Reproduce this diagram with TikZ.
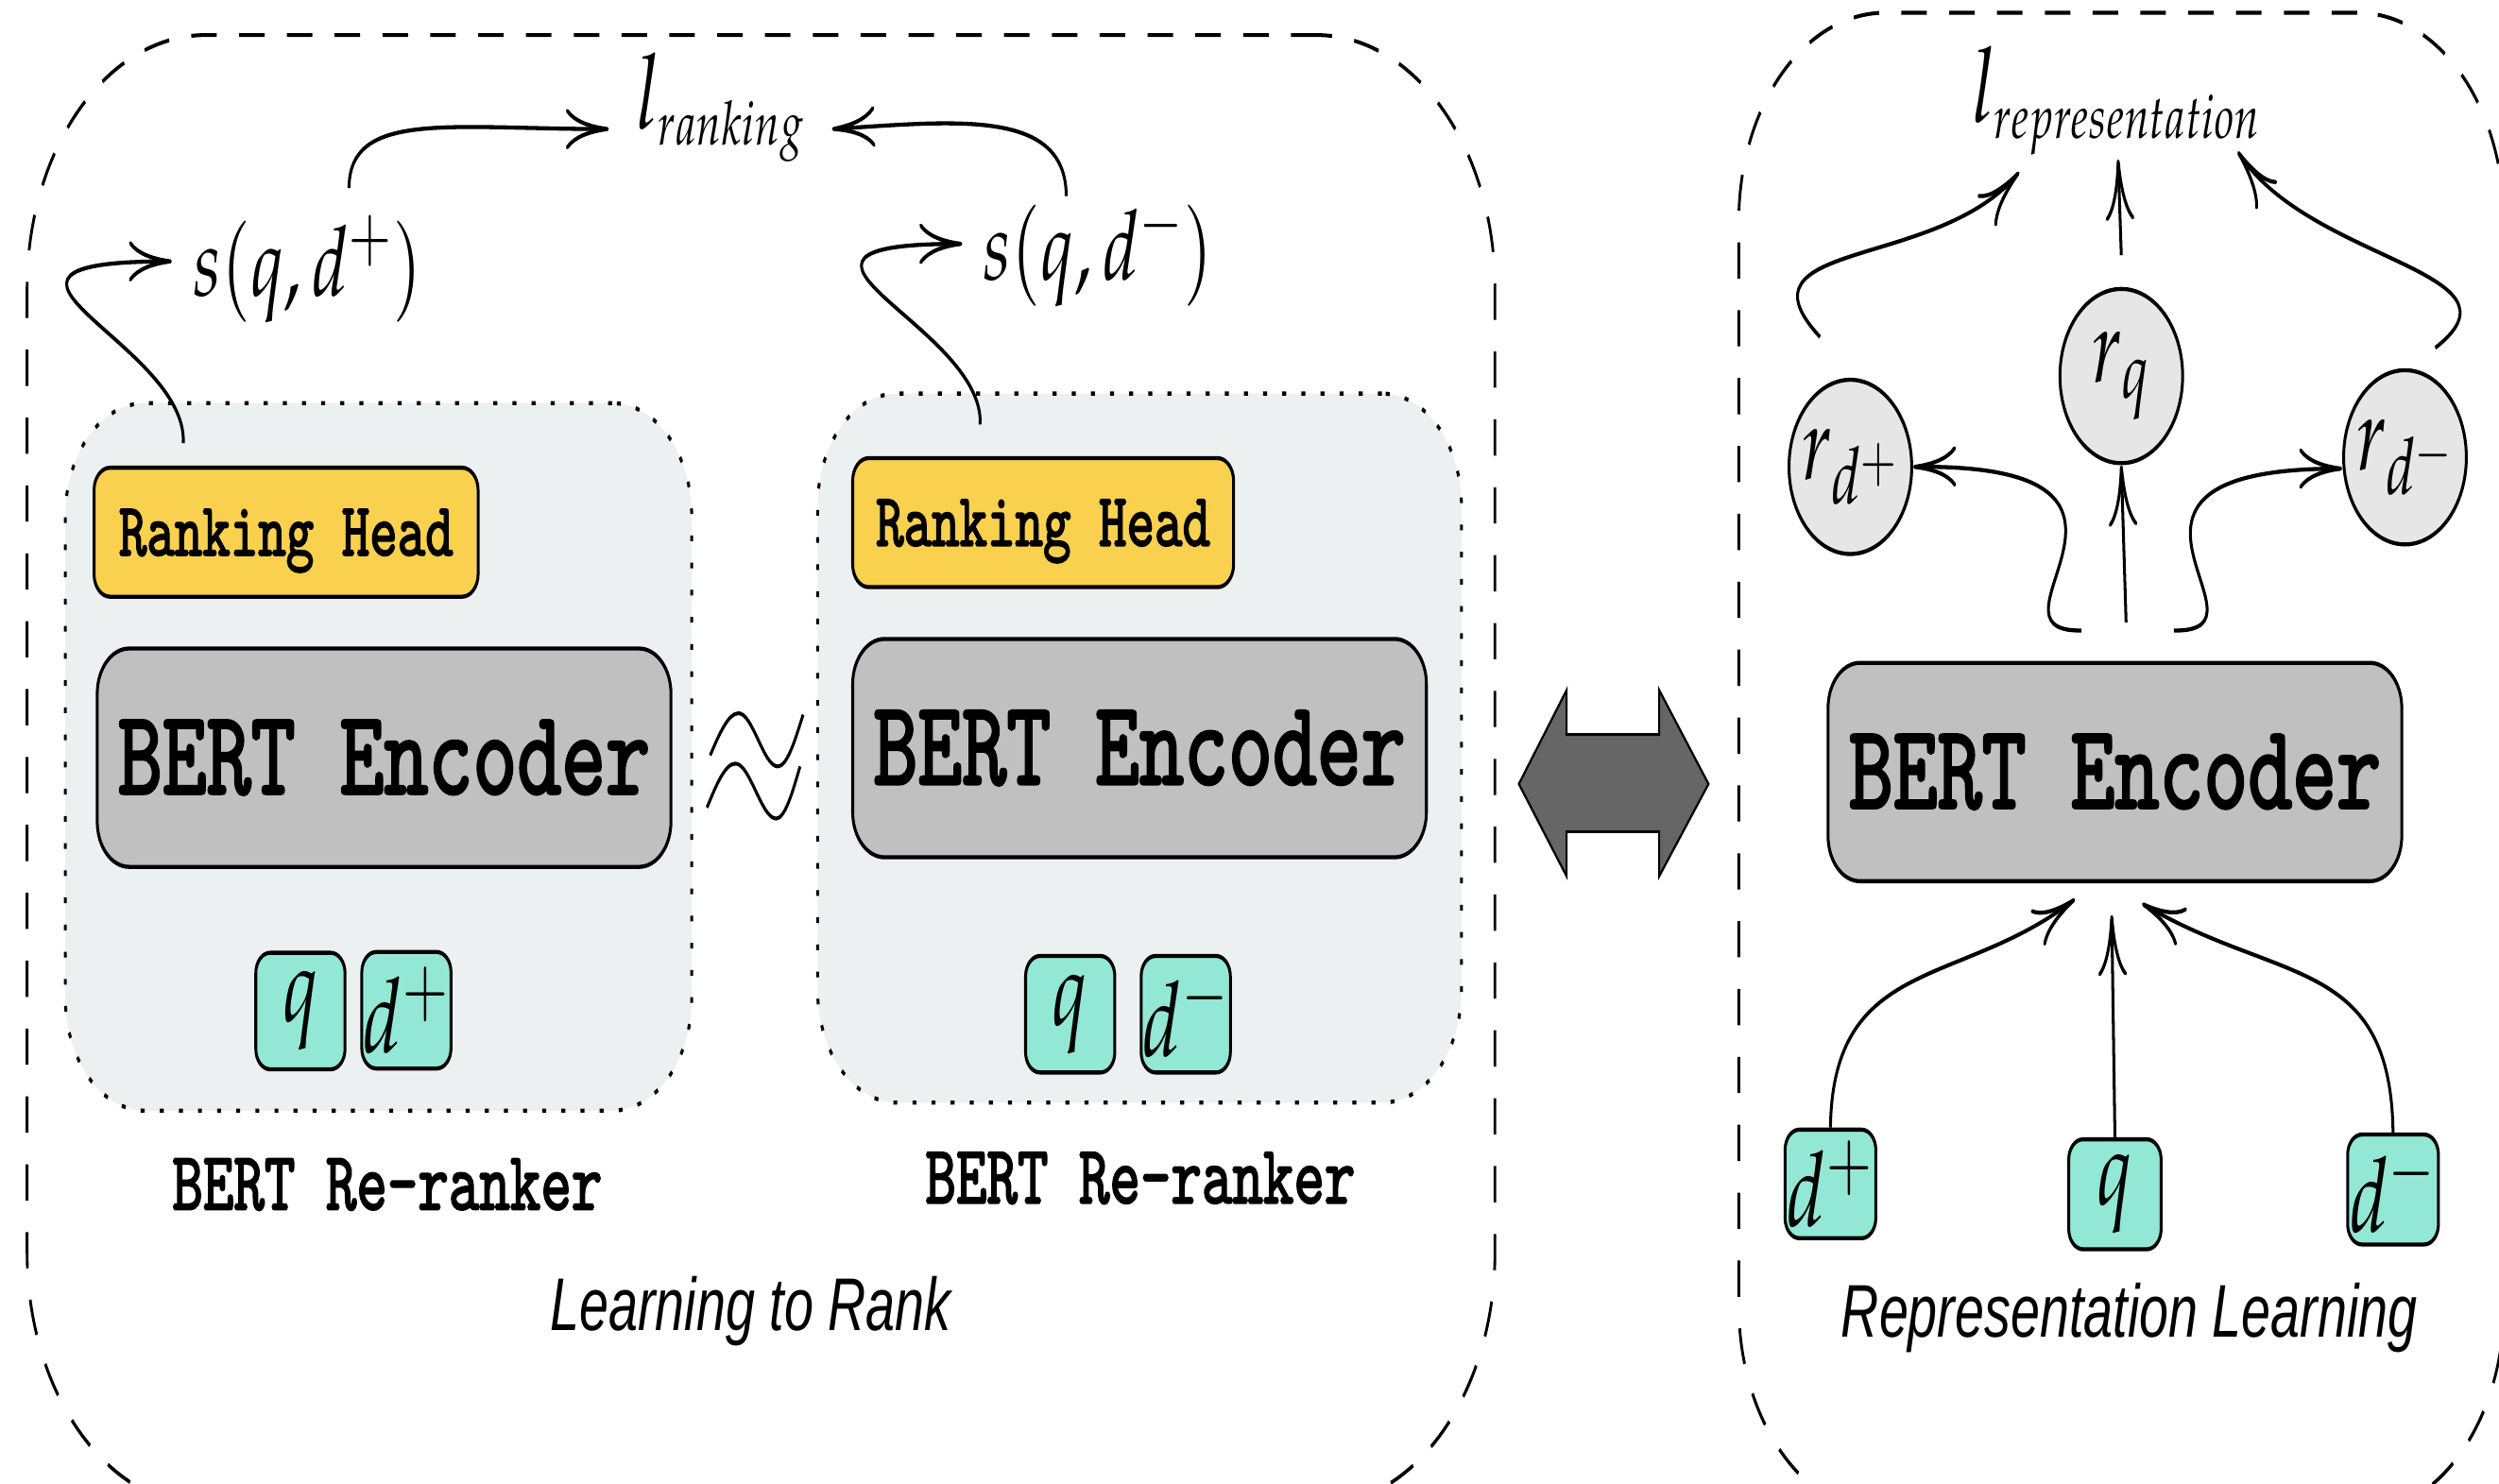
\documentclass[tikz,border=0pt]{standalone}
\usepackage{mathpazo}
\usepackage[no-math]{fontspec}
\usetikzlibrary{arrows.meta}
\newfontfamily\lsans{Liberation Sans}
\newfontfamily\ttheavy{lmmono10-regular}[Extension=.otf, FakeBold=2.5]
\definecolor{yhead}{HTML}{F9D14F}
\definecolor{tealbox}{HTML}{93E7D5}
\definecolor{encgray}{HTML}{C0C0C0}
\definecolor{bgpanel}{HTML}{ECF0F1}
\definecolor{rnode}{HTML}{E6E6E6}
\definecolor{darrow}{HTML}{666666}
\newcommand{\smallsub}[1]{\hbox{\fontsize{27}{29}\selectfont$#1$}}
\tikzset{
 panel/.style={draw, dash pattern=on 16pt off 14pt, line width=1.7pt, inner sep=0pt},
 rrbox/.style={draw, fill=bgpanel, dash pattern=on 2.5pt off 9.5pt, line width=1.8pt, rounded corners=50pt, inner sep=0pt},
 headbox/.style={draw, fill=yhead, line width=1.8pt, rounded corners=10pt, inner sep=0pt, minimum width=241pt, minimum height=57pt, font=\fontsize{33.3}{36}\selectfont\ttheavy, text depth=0pt},
 encbox/.style={draw, fill=encgray, line width=1.8pt, rounded corners=20pt, minimum width=360pt, minimum height=96.5pt, inner sep=0pt, font=\fontsize{53}{56}\selectfont\ttheavy},
 inbox/.style={draw, fill=tealbox, line width=1.8pt, rounded corners=9pt, minimum width=56pt, minimum height=51.5pt, inner sep=0pt, font=\fontsize{46}{50}\selectfont},
 mathlbl/.style={inner sep=0pt, font=\fontsize{46}{50}\selectfont},
 scorelbl/.style={inner sep=0pt, font=\fontsize{43}{47}\selectfont},
 rcirc/.style={circle, draw, fill=rnode, line width=1.8pt, minimum size=77pt, inner sep=0pt, font=\fontsize{46}{50}\selectfont},
 ttlbl/.style={inner sep=0pt, anchor=base, font=\fontsize{36.7}{40}\selectfont\ttheavy},
 sflbl/.style={inner sep=0pt, anchor=base, font=\fontsize{33}{36}\selectfont\lsans\itshape},
 arr/.style={line width=1.8pt, -{Computer Modern Rightarrow[length=27pt,width=18pt]}},
 wave/.style={line width=1.7pt},
}
\begin{document}
\begin{tikzpicture}
\useasboundingbox (0pt,0pt) rectangle (1568pt,-931pt);
\begin{scope}[x=1pt, y=-0.70423pt, transform canvas={yscale=1.42}]
% panels
\node[panel, rounded corners=112pt, minimum width=921pt, minimum height=650pt] (pl) at (477.5,483.5) {};
\node[panel, rounded corners=92pt, minimum width=480pt, minimum height=663.4pt] (pr) at (1331,479) {};
% re-ranker backgrounds
\node[rrbox, minimum width=393pt, minimum height=312.7pt] (bg1) at (237.5,475) {};
\node[rrbox, minimum width=404pt, minimum height=313.4pt] (bg2) at (715,469.5) {};
% left re-ranker
\node[headbox] (rh1) at (179.5,334) {Ranking Head};
\node[encbox] (enc1) at (241,475.5) {BERT Encoder};
\node[inbox] (q1) at (188.5,634.5) {$q$};
\node[inbox] (dp1) at (255,634) {$d^{+}$};
% right re-ranker
\node[headbox, minimum width=239pt] (rh2) at (654.5,328) {Ranking Head};
\node[encbox] (enc2) at (715,469.5) {BERT Encoder};
\node[inbox] (q2) at (671.5,636.5) {$q$};
\node[inbox] (dm2) at (744,636.5) {$d^{-}$};
% labels
\node[ttlbl] (rr1) at (243,759) {BERT Re-ranker};
\node[ttlbl] (rr2) at (715.5,755) {BERT Re-ranker};
\node[sflbl] (ltr) at (471,835) {Learning to Rank};
% approximately-equal sign between the re-rankers
\draw[wave] (445.6,474) sin (463.4,447.6) cos (475.7,464.3) sin (488,481) cos (503.9,448.5);
\draw[wave] (443.6,506.8) sin (461.4,479.2) cos (474.2,496.5) sin (487,513.7) cos (502,481);
% scores and loss
\node[scorelbl] (s1) at (193,169) {$s\!\left(q,d^{+}\right)$};
\node[scorelbl] (s2) at (689,159) {$s\!\left(q,d^{-}\right)$};
\node[mathlbl, anchor=base] (lrank) at (452,81) {$l_{\smallsub{ranking}}$};
\draw[arr] ([xshift=-64.5pt,yshift=10pt]rh1.north) .. controls (118,215) and (-45,164) .. ([xshift=-13pt,yshift=3.5pt]s1.west);
\draw[arr] ([xshift=26pt,yshift=12pt]s1.north) .. controls (219,69) and (282,81) .. ([xshift=-70pt]lrank.base);
\draw[arr] ([xshift=-39.5pt,yshift=14pt]rh2.north) .. controls (618,204) and (455,153) .. ([xshift=-13pt,yshift=4.2pt]s2.west);
\draw[arr] ([xshift=-20pt,yshift=1.4pt]s2.north) .. controls (669,68) and (600,76) .. ([xshift=70pt]lrank.base);
% double arrow
\draw[fill=darrow, line width=1.2pt] (953,492) -- (983,433) -- (983,461) -- (1041,461) -- (1041,433) -- (1072,492) -- (1041,550) -- (1041,522) -- (983,522) -- (983,550) -- cycle;
% representation learning
\node[encbox] (encR) at (1327,484.5) {BERT Encoder};
\node[inbox, minimum width=57pt, minimum height=48pt] (dpR) at (1148.5,743) {$d^{+}$};
\node[inbox, minimum width=58pt, minimum height=48.6pt] (qR) at (1327,749.5) {$q$};
\node[inbox, minimum width=57pt, minimum height=48.6pt] (dmR) at (1501.5,746.5) {$d^{-}$};
\node[rcirc] (rdp) at (1161,293) {$r_{d^{+}}$};
\node[rcirc] (rq) at (1331,236) {$r_{q}$};
\node[rcirc] (rdm) at (1509,287) {$r_{d^{-}}$};
\node[mathlbl, anchor=base] (lrep) at (1328,77) {$l_{\smallsub{representation}}$};
\node[sflbl] (rl) at (1336,839) {Representation Learning};
\draw[arr] (dpR.north) .. controls (1150,600) and (1230,620) .. ([xshift=-25pt,yshift=-7pt]encR.south);
\draw[arr] (qR.north) -- ([xshift=-2pt,yshift=-14pt]encR.south);
\draw[arr] (dmR.north) .. controls (1500,600) and (1430,618) .. ([xshift=17pt,yshift=-9pt]encR.south);
\draw[arr] ([xshift=-21pt,yshift=13.4pt]encR.north) .. controls (1236,397) and (1381,291) .. (rdp.east);
\draw[arr] ([xshift=7pt,yshift=17pt]encR.north) -- (rq.south);
\draw[arr] ([xshift=37pt,yshift=13.4pt]encR.north) .. controls (1434,397) and (1290,294) .. ([yshift=-5pt]rdm.west);
\draw[arr] ([xshift=-19pt,yshift=18pt]rdp.north) .. controls (1085,150) and (1215,170) .. ([xshift=-61pt,yshift=-21.8pt]lrep.base);
\draw[arr] ([yshift=14pt]rq.north) -- ([xshift=1pt,yshift=-16.2pt]lrep.base);
\draw[arr] ([xshift=19pt,yshift=9pt]rdm.north) .. controls (1590,170) and (1450,165) .. ([xshift=76pt,yshift=-12.7pt]lrep.base);
\end{scope}
\end{tikzpicture}
\end{document}
